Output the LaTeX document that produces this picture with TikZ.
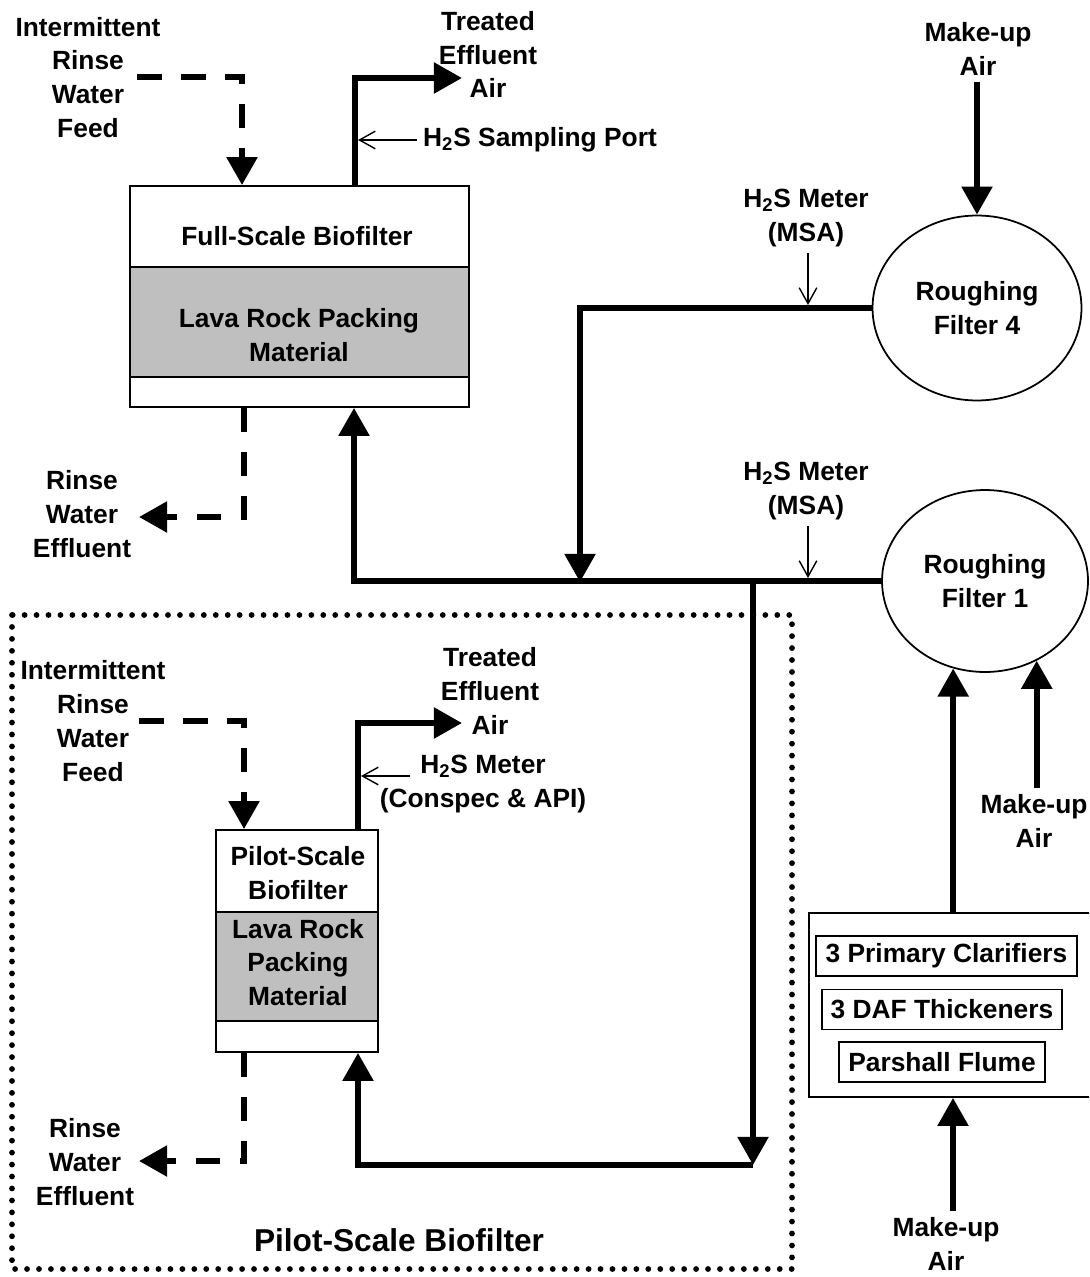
\documentclass[tikz,border=0pt]{standalone}
\usepackage{fontspec}
\setmainfont{Liberation Sans}
\usepackage{tikz}
\usetikzlibrary{arrows.meta,positioning}
\usetikzlibrary{shapes.geometric}

\begin{document}
\begin{tikzpicture}[
        x=0.02cm, y=-0.02cm,
        every node/.style={align=center, font=\fontsize{15}{19.3}\selectfont\bfseries},
        flow/.style={-{Triangle[length=16pt,width=17pt]}, line width=3.4pt},
        rinse/.style={-{Triangle[length=16pt,width=17pt]}, line width=3.4pt, dash pattern=on 14pt off 11pt},
        probe/.style={-{Straight Barb[length=9pt,width=10pt]}, line width=0.8pt},
        unit/.style={draw, line width=1pt, inner sep=0pt},
        packing/.style={unit, fill=black!25},
        tank/.style={draw, ellipse, line width=1pt, inner sep=0pt},
        cell/.style={draw, line width=1pt, minimum height=0.8cm, inner sep=0pt},
        boundary/.style={line width=3.3pt, line cap=round, dash pattern=on 0pt off 6.8pt}
    ]

    \useasboundingbox (0,0) rectangle (1089,1277);
    \clip (0,0) rectangle (1089,1277);

    % Full-Scale Biofilter
    \node[packing, minimum width=6.78cm, minimum height=2.2cm] (fullpack) at (299.5,322) {};
    \node[unit, minimum width=6.78cm, minimum height=4.42cm] (full) at (299.5,296.5) {};
    \node (fullname) at (297,236) {Full-Scale Biofilter};
    \node (fullmedia) at (299,335.5) {Lava Rock Packing\\Material};

    % Rinse water in and out
    \node (feed) at (88,77.5) {Intermittent\\Rinse\\Water\\Feed};
    \coordinate (feedin) at (137,77);
    \draw[rinse] (feedin) -| (full.north -| 242,0);
    \node (rinseout) at (82,514) {Rinse\\Water\\Effluent};
    \coordinate (rinseend) at (139,517);
    \draw[rinse] (full.south -| 244,0) |- (rinseend);

    % Treated air
    \node (treated) at (488,54.5) {Treated\\Effluent\\Air};
    \coordinate (treatedout) at (462,78);
    \draw[flow] (full.north -| 355,0) |- (treatedout);
    \node (port) at (540,140) {H\textsubscript{2}S Sampling Port};
    \draw[probe] (port.west) -- (port.west -| 358,0);

    % Roughing Filter 4
    \node[tank, minimum width=4.18cm, minimum height=3.7cm] (rf4) at (977,308) {Roughing\\Filter 4};
    \node (makeup4) at (978,49) {Make-up\\Air};
    \draw[flow] (makeup4.south -| rf4.north) -- (rf4.north);
    \node (meter4) at (806,218) {H\textsubscript{2}S Meter\\(MSA)};
    \draw[probe] (meter4.south -| 808,0) -- (808,305);
    \coordinate (tee4) at (580,582);
    \draw[flow] (rf4.west) -| (tee4);

    % Roughing Filter 1
    \node[tank, minimum width=4.12cm, minimum height=3.64cm] (rf1) at (985,581) {Roughing\\Filter 1};
    \draw[flow] (rf1.west) -| (full.south -| 354,0);
    \node (meter1) at (806,491) {H\textsubscript{2}S Meter\\(MSA)};
    \draw[probe] (meter1.south -| 808,0) -- (808,578);
    \node (makeup1) at (1034,821) {Make-up\\Air};
    \draw[flow] (makeup1.north -| rf1.-57) -- (rf1.-57);

    % Headworks
    \node[unit, minimum width=5.76cm, minimum height=3.68cm] (works) at (953,1005) {};
    \node[cell, minimum width=5.22cm] (clarifiers) at (946.5,956) {3 Primary Clarifiers};
    \node[cell, minimum width=4.8cm] (daf) at (942,1009.5) {3 DAF Thickeners};
    \node[cell, minimum width=4.12cm] (flume) at (942,1062) {Parshall Flume};
    \draw[flow] (works.north -| rf1.-110) -- (rf1.-110);
    \node (makeupb) at (946,1244) {Make-up\\Air};
    \draw[flow] (makeupb.north -| works.south) -- (works.south);

    % Pilot-Scale Biofilter
    \draw[boundary] (12,615) rectangle (792,1269);
    \node[font=\fontsize{18}{22}\selectfont\bfseries] (pilotname) at (399,1240) {Pilot-Scale Biofilter};
    \node[packing, minimum width=3.24cm, minimum height=2.18cm] (pilotpack) at (297,966.5) {};
    \node[unit, minimum width=3.24cm, minimum height=4.44cm] (pilot) at (297,941) {};
    \node (pilotname2) at (298,873.5) {Pilot-Scale\\Biofilter};
    \node (pilotmedia) at (298,962.5) {Lava Rock\\Packing\\Material};

    \node (pfeed) at (93,721) {Intermittent\\Rinse\\Water\\Feed};
    \coordinate (pfeedin) at (139,721);
    \draw[rinse] (pfeedin) -| (pilot.north -| 244,0);
    \node (prinse) at (85,1162) {Rinse\\Water\\Effluent};
    \coordinate (prinseend) at (139,1161);
    \draw[rinse] (pilot.south -| 244,0) |- (prinseend);

    \node (ptreated) at (490,691) {Treated\\Effluent\\Air};
    \coordinate (ptreatedout) at (462,723);
    \draw[flow] (pilot.north -| 358,0) |- (ptreatedout);
    \node (pmeter) at (483,784) {H\textsubscript{2}S Meter\\(Conspec \& API)};
    \coordinate (pmeterin) at (410,776);
    \draw[probe] (pmeterin) -- (pmeterin -| 361,0);

    % Feed to pilot
    \coordinate (teep) at (753,582);
    \coordinate (pcorner) at (753,1165);
    \draw[flow] (teep) -- (pcorner);
    \draw[flow] (pcorner) -| (pilot.south -| 358,0);

\end{tikzpicture}
\end{document}
